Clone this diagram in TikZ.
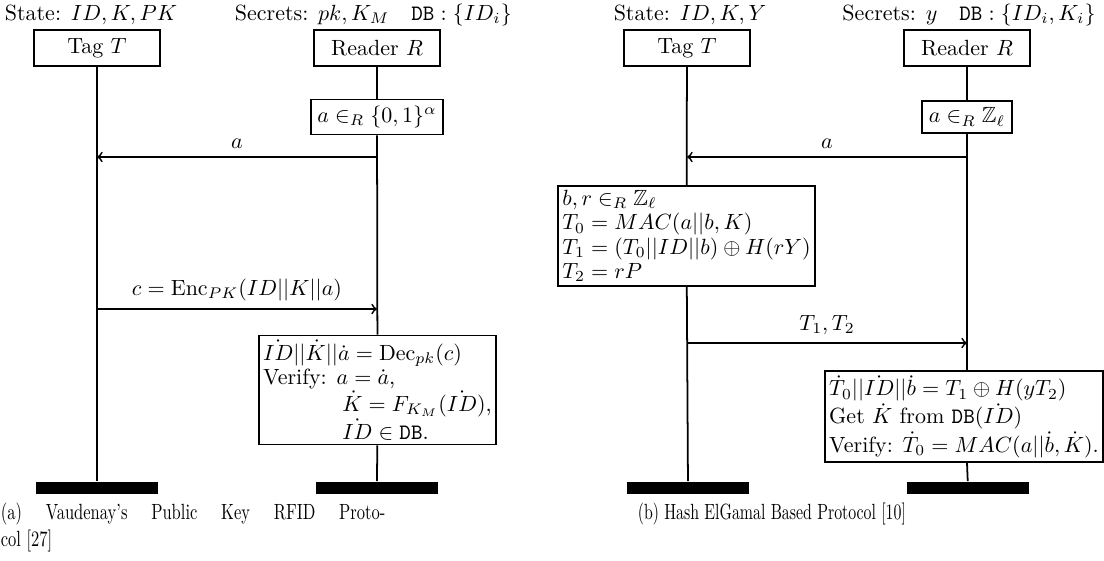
\documentclass[tikz,border=0pt]{standalone}
\usepackage{amsmath,amssymb}
\usepackage{graphicx}
\begin{document}
\begin{tikzpicture}[x=0.4545pt,y=-0.4545pt,thick,
	actor/.style={draw,minimum width=57pt,minimum height=16.4pt},
	calcbox/.style={draw,fill=white,align=left,inner sep=2pt,font=\fontsize{10}{11}\selectfont},
	lifeend/.style={fill=black,minimum width=55.5pt,minimum height=5.5pt,inner sep=0pt},
	caption/.style={anchor=base west,inner sep=0pt}]
	\useasboundingbox (0,0) rectangle (1104,560);

	%protocol (a)
		%parties and state
		\node[anchor=west,inner sep=0pt] (stateA) at (4,15) {State: $ID,K,PK$}; %tag state
		\node[anchor=west,inner sep=0pt] (secretA) at (234,15) {Secrets: $pk,K_M$\quad$\texttt{DB}:\{ID_i\}$}; %reader secrets
		\node[actor] (tagA) at (97,48) {Tag $T$}; %tag
		\node[actor] (readerA) at (377,48) {Reader $R$}; %reader

		%computations
		\node[calcbox,inner sep=3pt] (randA) at (377,117) {$a\in_R\{0,1\}^\alpha$}; %nonce
		\node[calcbox] (decA) at (377.5,390) {$\dot{ID}||\dot{K}||\dot{a}=\mathrm{Dec}_{pk}(c)$\\
			Verify: $a=\dot{a}$,\\
			\hspace*{36pt}$\dot{K}=F_{K_M}(\dot{ID})$,\\
			\hspace*{36pt}$\dot{ID}\in\texttt{DB}$.}; %decrypt and check

		%lifelines
		\node[lifeend] (endTa) at (97,488) {}; %tag end
		\node[lifeend] (endRa) at (377,488) {}; %reader end
		\draw (tagA) -- (endTa); %tag lifeline
		\draw (readerA) -- (randA); %reader lifeline
		\draw (randA) -- (decA);
		\draw (decA) -- (endRa);

		%messages
		\coordinate (msgA1) at (377,157);
		\coordinate (msgA2) at (97,309);
		\draw[->] (msgA1) -- (msgA1 -| tagA) node[midway,above] {$a$}; %challenge
		\draw[->] (msgA2) -- (msgA2 -| readerA) node[midway,above] {$c=\mathrm{Enc}_{PK}(ID||K||a)$}; %response

	%protocol (b)
		%parties and state
		\node (stateB) at (690,15) {State: $ID,K,Y$}; %tag state
		\node (secretB) at (969,15) {Secrets: $y$\quad$\texttt{DB}:\{ID_i,K_i\}$}; %reader secrets
		\node[actor] (tagB) at (687,48) {Tag $T$}; %tag
		\node[actor] (readerB) at (967,48) {Reader $R$}; %reader

		%computations
		\node[calcbox,inner sep=3pt] (randB) at (967,117) {$a\in_R\mathbb{Z}_\ell$}; %nonce
		\node[calcbox] (encB) at (686.5,236) {$b,r\in_R\mathbb{Z}_\ell$\\
			$T_0=MAC(a||b,K)$\\
			$T_1=(T_0||ID||b)\oplus H(rY)$\\
			$T_2=rP$}; %tag side
		\node[calcbox] (decB) at (964,416.5) {$\dot{T}_0||\dot{ID}||\dot{b}=T_1\oplus H(yT_2)$\\
			Get $\dot{K}$ from $\texttt{DB}(\dot{ID})$\\
			Verify: $\dot{T}_0=MAC(a||\dot{b},\dot{K})$.}; %reader side

		%lifelines
		\node[lifeend] (endTb) at (688,488) {}; %tag end
		\node[lifeend] (endRb) at (968,488) {}; %reader end
		\draw (tagB) -- (encB); %tag lifeline
		\draw (encB) -- (endTb);
		\draw (readerB) -- (randB); %reader lifeline
		\draw (randB) -- (readerB |- decB.north);
		\draw (readerB |- decB.south) -- (endRb);

		%messages
		\coordinate (msgB1) at (967,157);
		\coordinate (msgB2) at (687,343);
		\draw[->] (msgB1) -- (msgB1 -| tagB) node[midway,above] {$a$}; %challenge
		\draw[->] (msgB2) -- (msgB2 -| readerB) node[midway,above] {$T_1,T_2$}; %response

	%captions
	\node[caption] (capA1) at (0,519) {\scalebox{0.75}[1]{\makebox[233pt][s]{(a) Vaudenay's Public Key RFID Proto-}}};
	\node[caption] (capA2) at (0,546) {\scalebox{0.75}[1]{col [27]}};
	\node[caption] (capB) at (637,519) {\scalebox{0.72}[1]{(b) Hash ElGamal Based Protocol [10]}};

\end{tikzpicture}
\end{document}
